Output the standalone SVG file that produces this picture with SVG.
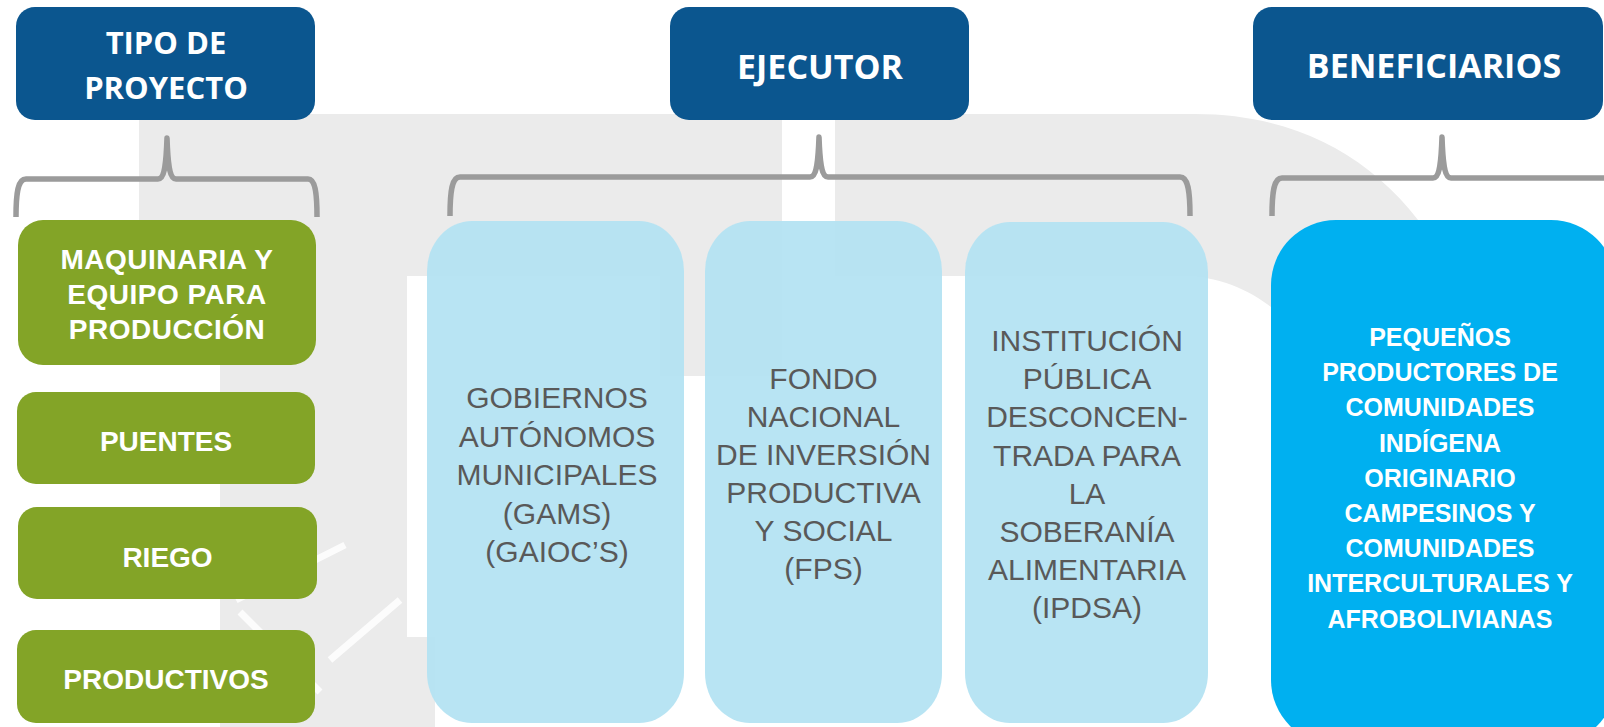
<svg xmlns="http://www.w3.org/2000/svg" width="1604" height="727" viewBox="0 0 1604 727">
  <style>
    .hdr { fill: #0B568F; }
    .hdrt { font-family: "Open Sans", "Liberation Sans", sans-serif; font-weight: 700; fill: #FFFFFF; text-anchor: middle; }
    .grn { fill: #83A427; }
    .grnt { font-family: "Liberation Sans", Arial, sans-serif; font-weight: 700; font-size: 28px; fill: #FFFFFF; text-anchor: middle; }
    .lb { fill: #B4E3F2; fill-opacity: 0.95; }
    .lbt { font-family: "Liberation Sans", Arial, sans-serif; font-size: 30px; fill: #595959; text-anchor: middle; }
    .bb { fill: #00B0F0; }
    .bbt { font-family: "Liberation Sans", Arial, sans-serif; font-weight: 700; font-size: 25px; fill: #FFFFFF; text-anchor: middle; }
    .brace { fill: none; stroke: #9B9B9B; stroke-width: 5.5; stroke-linejoin: round; }
    .wm { fill: #EBEBEB; }
  </style>
  <rect width="1604" height="727" fill="#FFFFFF"/>

  <!-- background watermark -->
  <g id="watermark">
    <path class="wm" fill-rule="evenodd" d="M139,114 H1195 C1320,114 1410,180 1460,290 C1500,380 1530,520 1550,727 H220 V358 H139 Z M407,276 H1180 C1220,276 1250,290 1275,310 C1320,350 1350,450 1360,727 H407 Z"/>
    <rect class="wm" x="660" y="270" width="122" height="106"/>
    <rect class="wm" x="405" y="637" width="30" height="90"/>
    <rect x="782" y="112" width="53" height="170" fill="#FFFFFF"/>
    <path d="M345,545 L236,600 M240,612 L320,692 M400,600 L330,660" stroke="#FFFFFF" stroke-width="7" fill="none" opacity="0.85"/>
  </g>

  <!-- connectors (braces) -->
  <g id="connectors">
    <path class="brace" d="M16,217 C16,192 18,179 26,179 L158,179 C164,179 166,168 167,138 C168,168 170,179 176,179 L308,179 C315,179 317,192 317,217"/>
    <path class="brace" d="M450,216 C450,190 452,177 460,177 L810,177 C816,177 818,166 819,137 C820,166 822,177 828,177 L1180,177 C1188,177 1190,190 1190,216"/>
    <path class="brace" d="M1272,216 C1272,191 1274,178 1282,178 L1433,178 C1439,178 1441,167 1442,137 C1443,167 1445,178 1451,178 L1610,178"/>
  </g>

  <!-- headers -->
  <g id="hdr-tipo">
    <rect class="hdr" x="16" y="7" width="299" height="113" rx="19"/>
    <text class="hdrt" font-size="31" x="166" y="54">TIPO DE</text>
    <text class="hdrt" font-size="31" x="166" y="99">PROYECTO</text>
  </g>
  <g id="hdr-ejecutor">
    <rect class="hdr" x="670" y="7" width="299" height="113" rx="19"/>
    <text class="hdrt" font-size="34" x="820" y="79">EJECUTOR</text>
  </g>
  <g id="hdr-beneficiarios">
    <rect class="hdr" x="1253" y="7" width="350" height="113" rx="19"/>
    <text class="hdrt" font-size="34" x="1434" y="78">BENEFICIARIOS</text>
  </g>

  <!-- tipo de proyecto -->
  <g id="maquinaria">
    <rect class="grn" x="18" y="220" width="298" height="145" rx="25"/>
    <text class="grnt" x="167" y="269" letter-spacing="0.5">MAQUINARIA Y</text>
    <text class="grnt" x="167" y="304" letter-spacing="0.5">EQUIPO PARA</text>
    <text class="grnt" x="167" y="339" letter-spacing="0.5">PRODUCCIÓN</text>
  </g>
  <g id="puentes">
    <rect class="grn" x="17" y="392" width="298" height="92" rx="19"/>
    <text class="grnt" x="166" y="451">PUENTES</text>
  </g>
  <g id="riego">
    <rect class="grn" x="18" y="507" width="299" height="92" rx="19"/>
    <text class="grnt" x="167.5" y="567">RIEGO</text>
  </g>
  <g id="productivos">
    <rect class="grn" x="17" y="630" width="298" height="93" rx="19"/>
    <text class="grnt" x="166" y="689">PRODUCTIVOS</text>
  </g>

  <!-- ejecutor -->
  <g id="gams">
    <rect class="lb" x="427" y="221" width="257" height="502" rx="45" ry="50"/>
    <text class="lbt" x="557" y="408">GOBIERNOS</text>
    <text class="lbt" x="557" y="446.5">AUTÓNOMOS</text>
    <text class="lbt" x="557" y="485">MUNICIPALES</text>
    <text class="lbt" x="557" y="523.5">(GAMS)</text>
    <text class="lbt" x="557" y="562">(GAIOC’S)</text>
  </g>
  <g id="fps">
    <rect class="lb" x="705" y="221" width="237" height="502" rx="45" ry="50"/>
    <text class="lbt" x="823.5" y="389">FONDO</text>
    <text class="lbt" x="823.5" y="427">NACIONAL</text>
    <text class="lbt" x="823.5" y="465">DE INVERSIÓN</text>
    <text class="lbt" x="823.5" y="503">PRODUCTIVA</text>
    <text class="lbt" x="823.5" y="541">Y SOCIAL</text>
    <text class="lbt" x="823.5" y="579">(FPS)</text>
  </g>
  <g id="ipdsa">
    <rect class="lb" x="965" y="222" width="243" height="501" rx="45" ry="50"/>
    <text class="lbt" x="1087" y="351">INSTITUCIÓN</text>
    <text class="lbt" x="1087" y="389.2">PÚBLICA</text>
    <text class="lbt" x="1087" y="427.4">DESCONCEN-</text>
    <text class="lbt" x="1087" y="465.6">TRADA PARA</text>
    <text class="lbt" x="1087" y="503.8">LA</text>
    <text class="lbt" x="1087" y="542">SOBERANÍA</text>
    <text class="lbt" x="1087" y="580.2">ALIMENTARIA</text>
    <text class="lbt" x="1087" y="618.4">(IPDSA)</text>
  </g>

  <!-- beneficiarios -->
  <g id="pequenos">
    <rect class="bb" x="1271" y="220" width="345" height="525" rx="65"/>
    <text class="bbt" x="1440" y="346">PEQUEÑOS</text>
    <text class="bbt" x="1440" y="381.2">PRODUCTORES DE</text>
    <text class="bbt" x="1440" y="416.4">COMUNIDADES</text>
    <text class="bbt" x="1440" y="451.6">INDÍGENA</text>
    <text class="bbt" x="1440" y="486.8">ORIGINARIO</text>
    <text class="bbt" x="1440" y="522">CAMPESINOS Y</text>
    <text class="bbt" x="1440" y="557.2">COMUNIDADES</text>
    <text class="bbt" x="1440" y="592.4">INTERCULTURALES Y</text>
    <text class="bbt" x="1440" y="627.6">AFROBOLIVIANAS</text>
  </g>
</svg>
